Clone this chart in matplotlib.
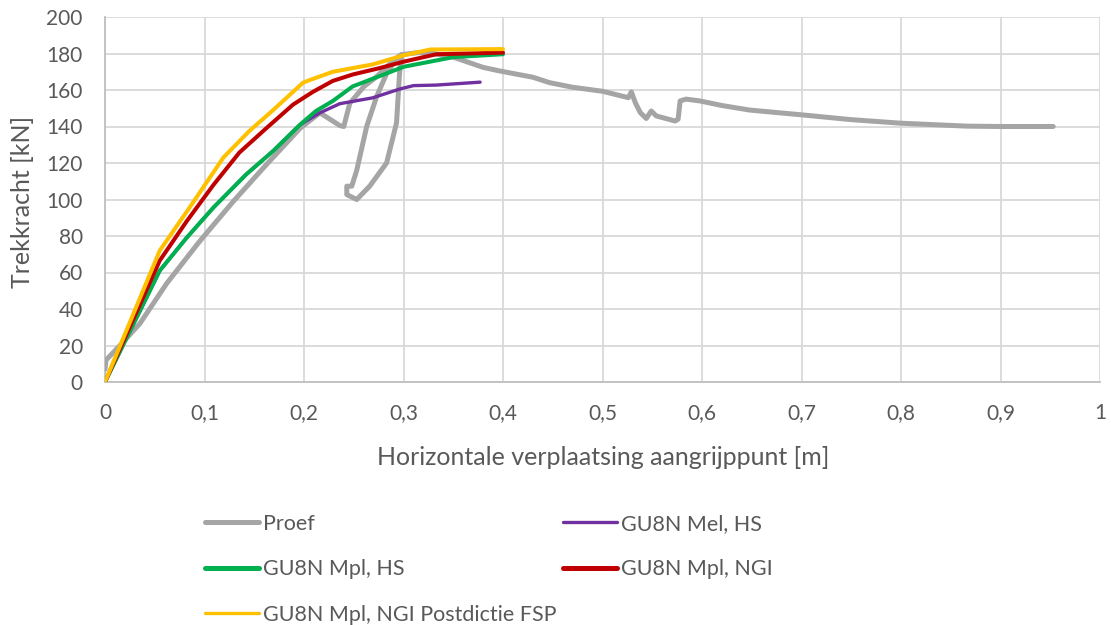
import matplotlib
matplotlib.use("Agg")
import matplotlib.pyplot as plt
from matplotlib.ticker import FuncFormatter

plt.rcParams['font.family'] = ['Lato', 'DejaVu Sans']

# ---- data ----
proef_x = [0.0, 0.001, 0.015, 0.035, 0.062, 0.095, 0.129, 0.162, 0.196, 0.216,
           0.226, 0.236, 0.240, 0.246, 0.260, 0.273, 0.290, 0.298,
           0.296, 0.293, 0.283, 0.266, 0.253, 0.243, 0.243, 0.248,
           0.253, 0.263, 0.273, 0.283, 0.293, 0.300,
           0.315, 0.330, 0.350, 0.380, 0.397, 0.430, 0.447, 0.470, 0.500,
           0.526, 0.529, 0.533, 0.538, 0.544, 0.549, 0.554, 0.573, 0.576,
           0.578, 0.584, 0.598, 0.620, 0.648, 0.700, 0.749, 0.800, 0.866,
           0.900, 0.953]
proef_y = [7, 12, 20, 32, 54, 77, 99, 119, 139, 147.5,
           144, 140.5, 140, 152.7, 161.8, 167.3, 176.3, 179.5,
           169, 142, 120, 107.3, 100, 102.7, 107.3, 107.3,
           116, 140, 156.4, 169, 177.3, 179.5,
           180.5, 180, 178, 172.4, 170.4, 167, 164, 161.5, 159.3,
           155.8, 159, 153, 147.6, 144.4, 148.5, 145.8, 143, 144,
           154, 155, 154, 151.5, 149, 146.4, 143.8, 141.8, 140.2,
           140, 140]

mel_hs_x = [0.0, 0.055, 0.082, 0.109, 0.142, 0.169, 0.196, 0.216, 0.236, 0.269,
            0.296, 0.310, 0.333, 0.377]
mel_hs_y = [0, 61, 79, 95.6, 113.8, 126.6, 141, 147.5, 152.5, 155.7,
            160.5, 162.4, 162.7, 164.3]

mpl_hs_x = [0.0, 0.055, 0.082, 0.109, 0.142, 0.169, 0.196, 0.212, 0.229, 0.249,
            0.276, 0.300, 0.350, 0.400]
mpl_hs_y = [0, 61, 79, 95.6, 113.8, 126.6, 141, 148.5, 154, 162,
            167.6, 172.7, 178, 179.6]

mpl_ngi_x = [0.0, 0.055, 0.082, 0.109, 0.135, 0.162, 0.189, 0.209, 0.229, 0.249,
             0.276, 0.300, 0.333, 0.400]
mpl_ngi_y = [0, 66.5, 88, 108, 125.7, 139, 152, 159, 165, 168.5,
             172, 175.5, 179.6, 180.5]

fsp_x = [0.0, 0.055, 0.085, 0.119, 0.145, 0.169, 0.199, 0.206, 0.229, 0.269,
         0.300, 0.327, 0.400]
fsp_y = [0, 72, 95.6, 123, 137.5, 149, 164, 165.5, 170, 174,
         179, 182.2, 182.4]

x_ticks = [0, 0.1, 0.2, 0.3, 0.4, 0.5, 0.6, 0.7, 0.8, 0.9, 1.0]
y_ticks = [0, 20, 40, 60, 80, 100, 120, 140, 160, 180, 200]

labels = ["Proef", "GU8N Mel, HS", "GU8N Mpl, HS", "GU8N Mpl, NGI",
          "GU8N Mpl, NGI Postdictie FSP"]
colors = ["#A5A5A5", "#7030A0", "#00B050", "#C00000", "#FFC000"]
plot_lw = [3.6, 2.4, 2.9, 2.9, 2.9]
legend_lw = [3.6, 2.4, 3.6, 3.6, 2.4]

TXT = "#595959"

fig = plt.figure(figsize=(11.11, 6.25), dpi=100)
ax = fig.add_axes([105/1111, 1 - 382/625, 995/1111, 365/625])

series = [(proef_x, proef_y), (mel_hs_x, mel_hs_y), (mpl_hs_x, mpl_hs_y),
          (mpl_ngi_x, mpl_ngi_y), (fsp_x, fsp_y)]
handles = []
for (xs, ys), lab, c, lw in zip(series, labels, colors, plot_lw):
    h, = ax.plot(xs, ys, color=c, lw=lw, label=lab, solid_capstyle='round',
                 solid_joinstyle='round', zorder=3)
    handles.append(h)

ax.set_xlim(0, 1)
ax.set_ylim(0, 200)
ax.set_xticks(x_ticks)
ax.set_yticks(y_ticks)
ax.xaxis.set_major_formatter(FuncFormatter(lambda v, p: ("%g" % v).replace(".", ",")))
ax.grid(True, color="#D9D9D9", lw=1.3, zorder=0)
ax.set_axisbelow(True)
for s in ["top", "right"]:
    ax.spines[s].set_visible(False)
for s in ["left", "bottom"]:
    ax.spines[s].set_color("#BFBFBF")
    ax.spines[s].set_linewidth(1.3)
ax.tick_params(axis='x', length=0, labelsize=15, labelcolor=TXT, pad=15)
ax.tick_params(axis='y', length=0, labelsize=15, labelcolor=TXT, pad=16)

fig.text(603/1111, 1 - 465/625, "Horizontale verplaatsing aangrijppunt [m]",
         fontsize=18, color=TXT, ha='center', va='baseline')
fig.text(23/1111, 1 - 201.5/625, "Trekkracht [kN]", fontsize=18, color=TXT,
         ha='center', va='center', rotation=90)

order = [0, 2, 4, 1, 3]
leg = fig.legend([handles[i] for i in order], [labels[i] for i in order],
                 ncol=2, loc="upper left", bbox_to_anchor=(205/1111, 1 - 514/625),
                 frameon=False, fontsize=15.5, labelcolor=TXT, handlelength=2.5,
                 handletextpad=0.19, columnspacing=0.3, labelspacing=1.18,
                 borderaxespad=0, borderpad=0)
for lh, i in zip(leg.get_lines(), order):
    lh.set_linewidth(legend_lw[i])
    lh.set_solid_capstyle('round')

fig.savefig("out.png", dpi=100)
